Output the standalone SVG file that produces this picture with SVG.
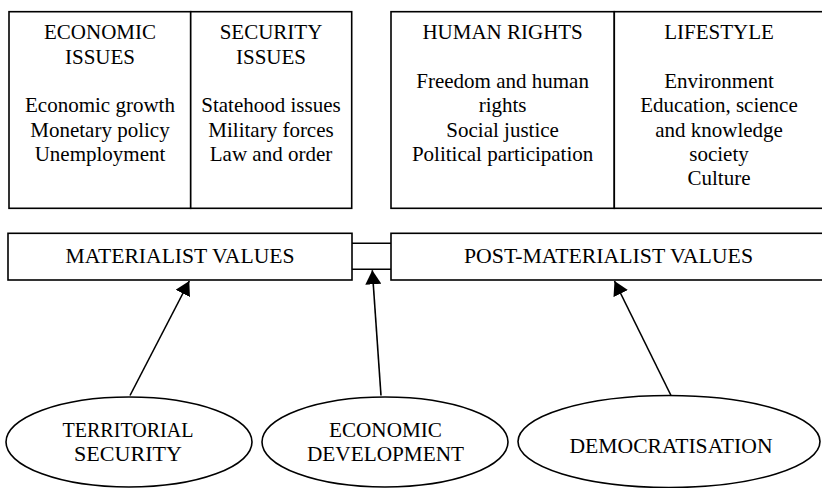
<svg xmlns="http://www.w3.org/2000/svg" width="822" height="488" viewBox="0 0 822 488">
  <style>
    .box { fill: #fff; stroke: #000; stroke-width: 1.6; }
    .div { stroke: #000; stroke-width: 1.6; fill: none; }
    .txt { font-family: "Liberation Serif", "Times New Roman", serif; font-size: 21px; fill: #000; text-anchor: middle; }
    .tall { font-size: 22px; }
    .edge { stroke: #000; stroke-width: 1.6; fill: none; marker-end: url(#head); }
  </style>
  <defs>
    <marker id="head" viewBox="0 0 14 16" refX="14" refY="8" markerWidth="14" markerHeight="16" markerUnits="userSpaceOnUse" orient="auto">
      <path d="M0,0 L14,8 L0,16 z" fill="#000"/>
    </marker>
  </defs>
  <rect width="822" height="488" fill="#fff"/>

  <!-- issue panels, top row -->
  <g id="economic-issues">
    <rect class="box" x="9" y="11.7" width="181.7" height="196.6"/>
    <text class="txt" x="100" y="39.3">ECONOMIC</text>
    <text class="txt" x="100" y="63.6">ISSUES</text>
    <text class="txt" x="100" y="112.3">Economic growth</text>
    <text class="txt" x="100" y="136.6">Monetary policy</text>
    <text class="txt" x="100" y="160.9">Unemployment</text>
  </g>
  <g id="security-issues">
    <rect class="box" x="190.7" y="11.7" width="161" height="196.6"/>
    <text class="txt" x="271" y="39.3">SECURITY</text>
    <text class="txt" x="271" y="63.6">ISSUES</text>
    <text class="txt" x="271" y="112.3">Statehood issues</text>
    <text class="txt" x="271" y="136.6">Military forces</text>
    <text class="txt" x="271" y="160.9">Law and order</text>
  </g>
  <g id="human-rights">
    <rect class="box" x="391" y="11.7" width="223.3" height="196.6"/>
    <text class="txt" x="502.6" y="39.3">HUMAN RIGHTS</text>
    <text class="txt" x="502.6" y="88">Freedom and human</text>
    <text class="txt" x="502.6" y="112.3">rights</text>
    <text class="txt" x="502.6" y="136.6">Social justice</text>
    <text class="txt" x="502.6" y="160.9">Political participation</text>
  </g>
  <g id="lifestyle">
    <rect class="box" x="614.3" y="11.7" width="211" height="196.6"/>
    <text class="txt" x="719" y="39.3">LIFESTYLE</text>
    <text class="txt" x="719" y="88">Environment</text>
    <text class="txt" x="719" y="112.3">Education, science</text>
    <text class="txt" x="719" y="136.6">and knowledge</text>
    <text class="txt" x="719" y="160.9">society</text>
    <text class="txt" x="719" y="185.2">Culture</text>
  </g>

  <!-- value bands -->
  <g id="materialist-values">
    <rect class="box" x="8" y="233.3" width="344" height="46.7"/>
    <text class="txt tall" x="180" y="263" textLength="229" lengthAdjust="spacingAndGlyphs">MATERIALIST VALUES</text>
  </g>
  <g id="post-materialist-values">
    <rect class="box" x="391" y="233.3" width="434" height="46.7"/>
    <text class="txt tall" x="608.5" y="263" textLength="289" lengthAdjust="spacingAndGlyphs">POST-MATERIALIST VALUES</text>
  </g>
  <g id="value-link">
    <line class="div" x1="352" y1="243.3" x2="391" y2="243.3"/>
    <line class="div" x1="352" y1="269.3" x2="391" y2="269.3"/>
  </g>

  <!-- drivers -->
  <g id="territorial-security">
    <ellipse class="box" cx="129" cy="442" rx="123" ry="45"/>
    <text class="txt tall" x="128" y="437" textLength="131" lengthAdjust="spacingAndGlyphs">TERRITORIAL</text>
    <text class="txt tall" x="128" y="461" textLength="108" lengthAdjust="spacingAndGlyphs">SECURITY</text>
  </g>
  <g id="economic-development">
    <ellipse class="box" cx="385" cy="442" rx="123" ry="45"/>
    <text class="txt tall" x="385.5" y="437" textLength="113" lengthAdjust="spacingAndGlyphs">ECONOMIC</text>
    <text class="txt tall" x="385.5" y="461" textLength="157" lengthAdjust="spacingAndGlyphs">DEVELOPMENT</text>
  </g>
  <g id="democratisation">
    <ellipse class="box" cx="669" cy="441.5" rx="151" ry="46"/>
    <text class="txt tall" x="671" y="453" textLength="203" lengthAdjust="spacingAndGlyphs">DEMOCRATISATION</text>
  </g>

  <!-- connectors -->
  <g id="connectors">
    <line class="edge" x1="130" y1="395.5" x2="189.3" y2="281"/>
    <line class="edge" x1="381" y1="395.5" x2="372.3" y2="270.3"/>
    <line class="edge" x1="671" y1="395.5" x2="614.5" y2="281"/>
  </g>
</svg>
